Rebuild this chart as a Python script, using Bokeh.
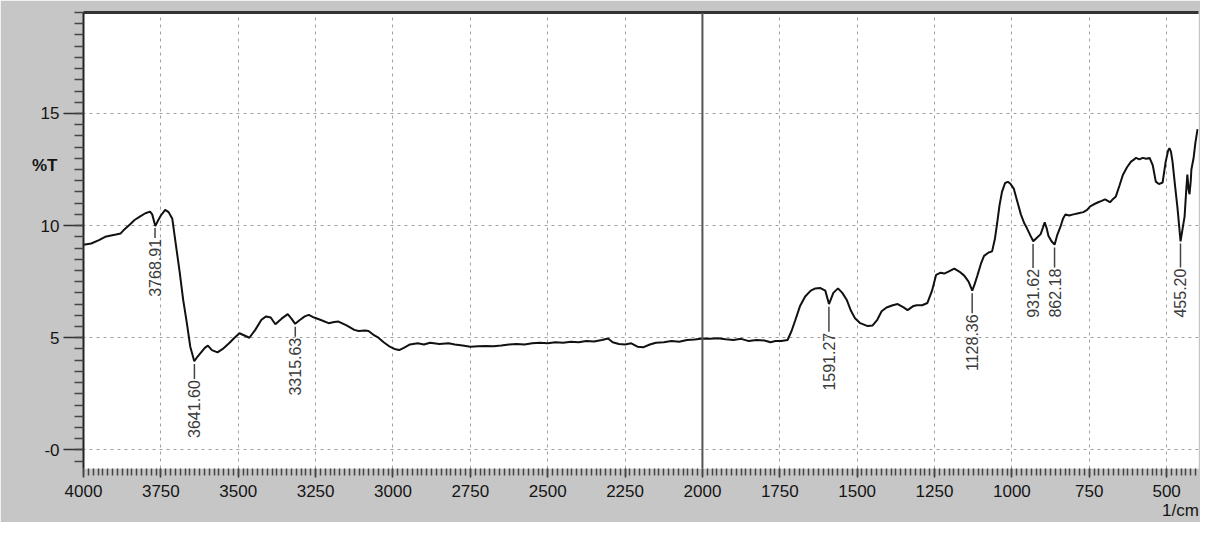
import numpy as np
from bokeh.plotting import figure
from bokeh.models import Range1d, FixedTicker, LinearAxis, Span
from bokeh.embed import file_html
from bokeh.resources import INLINE
from bokeh.core.properties import value

# ---------------- data ----------------
wavenumber = [
    4000, 3975, 3950, 3930, 3915, 3895, 3880, 3870, 3850, 3835, 3818, 3800, 3785, 3778,
    3768, 3760, 3750, 3736, 3725, 3713, 3700, 3689, 3678, 3666, 3655, 3642, 3632, 3620,
    3608, 3598, 3585, 3567, 3550, 3528, 3512, 3496, 3480, 3464, 3445, 3425, 3410, 3395,
    3380, 3360, 3340, 3328, 3316, 3300, 3285, 3272, 3255, 3235, 3208, 3190, 3176, 3150,
    3125, 3111, 3090, 3079, 3060, 3047, 3030, 3010, 2995, 2980, 2965, 2945, 2920, 2900,
    2880, 2850, 2820, 2800, 2775, 2750, 2725, 2700, 2675, 2650, 2625, 2600, 2575, 2550,
    2525, 2500, 2475, 2450, 2425, 2400, 2375, 2350, 2325, 2305, 2290, 2270, 2250, 2230,
    2210, 2190, 2170, 2150, 2125, 2100, 2075, 2050, 2025, 2000, 1975, 1950, 1925, 1900,
    1875, 1850, 1825, 1800, 1780, 1764, 1745, 1725, 1712, 1700, 1685, 1668, 1650, 1635,
    1620, 1603, 1591, 1577, 1562, 1548, 1533, 1520, 1507, 1490, 1466, 1450, 1435, 1421,
    1405, 1385, 1369, 1350, 1337, 1320, 1308, 1290, 1273, 1258, 1245, 1230, 1219, 1205,
    1186, 1170, 1154, 1140, 1128, 1120, 1112, 1100, 1090, 1075, 1064, 1055, 1048, 1040,
    1032, 1022, 1013, 1004, 994, 983, 971, 960, 952, 940, 931, 920, 907, 900, 894, 888,
    882, 872, 862, 853, 843, 835, 827, 815, 801, 785, 769, 757, 747, 735, 721, 710, 699,
    690, 683, 672, 664, 652, 641, 628, 615, 605, 599, 588, 577, 566, 555, 545, 535, 525,
    513, 503, 495, 491, 486, 481, 473, 465, 455, 448, 442, 437, 433, 429, 426, 422, 420,
    413, 407, 400,
]
transmittance = [
    9.15, 9.2, 9.35, 9.5, 9.55, 9.6, 9.65, 9.8, 10.05, 10.25, 10.4, 10.55, 10.62, 10.5,
    9.98, 10.2, 10.45, 10.7, 10.6, 10.3, 9.0, 7.9, 6.7, 5.65, 4.6, 3.95, 4.15, 4.35,
    4.55, 4.65, 4.45, 4.35, 4.5, 4.78, 5.0, 5.2, 5.1, 5.0, 5.35, 5.8, 5.95, 5.9,
    5.6, 5.85, 6.05, 5.85, 5.62, 5.8, 5.95, 6.02, 5.9, 5.8, 5.65, 5.7, 5.72, 5.55,
    5.35, 5.3, 5.32, 5.3, 5.1, 5.0, 4.8, 4.6, 4.5, 4.45, 4.55, 4.7, 4.75, 4.7,
    4.78, 4.72, 4.75, 4.7, 4.65, 4.6, 4.62, 4.63, 4.62, 4.65, 4.7, 4.72, 4.7, 4.75,
    4.78, 4.75, 4.8, 4.78, 4.82, 4.8, 4.85, 4.83, 4.9, 4.97, 4.8, 4.72, 4.7, 4.75,
    4.6, 4.58, 4.7, 4.78, 4.8, 4.85, 4.82, 4.9, 4.92, 4.97, 4.95, 4.98, 4.93, 4.9,
    4.95, 4.85, 4.9, 4.88, 4.8, 4.85, 4.85, 4.9, 5.3, 5.78, 6.4, 6.84, 7.1, 7.2,
    7.22, 7.1, 6.5, 7.0, 7.2, 7.0, 6.67, 6.2, 5.87, 5.65, 5.52, 5.55, 5.8, 6.18,
    6.35, 6.45, 6.5, 6.35, 6.23, 6.4, 6.45, 6.45, 6.55, 7.1, 7.8, 7.9, 7.86, 7.95,
    8.08, 7.95, 7.77, 7.5, 7.1, 7.4, 7.75, 8.3, 8.65, 8.8, 8.85, 9.4, 10.07, 10.9,
    11.5, 11.9, 11.95, 11.85, 11.65, 11.1, 10.5, 10.1, 9.9, 9.55, 9.3, 9.45, 9.62, 9.9, 10.15, 9.9,
    9.55, 9.3, 9.15, 9.6, 9.95, 10.3, 10.5, 10.45, 10.5, 10.55, 10.6, 10.7, 10.86, 10.95, 11.04, 11.1, 11.17,
    11.1, 11.04, 11.2, 11.3, 11.8, 12.27, 12.6, 12.85, 12.95, 13.02, 12.95, 13.02, 12.98, 13.02, 12.7, 11.96, 11.85,
    11.92, 12.85, 13.35, 13.45, 13.3, 12.85, 11.8, 10.8, 9.3, 9.9, 10.4, 11.5, 12.27, 11.6, 11.4, 12.0, 12.5,
    13.0, 13.7, 14.3,
]

x_ticks = [4000, 3750, 3500, 3250, 3000, 2750, 2500, 2250, 2000, 1750, 1500, 1250, 1000, 750, 500]
y_ticks = [0, 5, 10, 15]
y_tick_labels = {0: "-0", 5: "5", 10: "10", 15: "15"}

peak_wavenumbers = [3768.91, 3641.60, 3315.63, 1591.27, 1128.36, 931.62, 862.18, 455.20]
peak_labels = ["3768.91", "3641.60", "3315.63", "1591.27", "1128.36", "931.62", "862.18", "455.20"]

x_unit_label = "1/cm"
y_unit_label = "%T"

# ---------------- figure ----------------
Y0, Y1 = -0.83, 19.5
FRAME_H = 456
PX_PER_T = FRAME_H / (Y1 - Y0)
FONT = "Liberation Sans"
TXT = "#151515"

p = figure(
    frame_width=1115, frame_height=FRAME_H,
    x_range=Range1d(4000, 397), y_range=Range1d(Y0, Y1),
    output_backend="svg", toolbar_location=None,
    min_border_left=83, min_border_right=2, min_border_top=12, min_border_bottom=20,
    background_fill_color="white", border_fill_color="#c6c6c6",
    outline_line_color=None,
)

# x axis
xa = p.xaxis[0]
xa.ticker = FixedTicker(ticks=x_ticks, minor_ticks=list(np.arange(4000, 390, -15.625)))
xa.axis_line_color = None
xa.major_tick_in = 0
xa.minor_tick_in = 0
xa.major_tick_out = 9
xa.minor_tick_out = 7
xa.major_tick_line_color = "#333333"
xa.minor_tick_line_color = "#444444"
xa.major_tick_line_width = 1.5
xa.minor_tick_line_width = 1.5
xa.major_label_standoff = 7
xa.major_label_text_font = FONT
xa.major_label_text_font_size = "17px"
xa.major_label_text_color = TXT

# y axis
ya = p.yaxis[0]
ya.ticker = FixedTicker(ticks=y_ticks, minor_ticks=list(np.arange(-0.5, 19.6, 0.5)))
ya.major_label_overrides = y_tick_labels
ya.axis_line_color = "#222222"
ya.axis_line_width = 2
ya.major_tick_in = 0
ya.minor_tick_in = 0
ya.major_tick_out = 20
ya.minor_tick_out = 9
ya.major_tick_line_color = "#333333"
ya.minor_tick_line_color = "#444444"
ya.major_tick_line_width = 1.5
ya.minor_tick_line_width = 1.5
ya.major_label_standoff = 4
ya.major_label_text_font = FONT
ya.major_label_text_font_size = "17px"
ya.major_label_text_color = TXT

# grid uses only the major positions
p.xgrid[0].ticker = FixedTicker(ticks=x_ticks)
p.ygrid[0].ticker = FixedTicker(ticks=y_ticks)
for g in (p.xgrid[0], p.ygrid[0]):
    g.grid_line_color = "#a0a0a0"
    g.grid_line_dash = "3 4"
    g.grid_line_width = 1

# top border line
top = LinearAxis(ticker=FixedTicker(ticks=[]), major_label_text_font_size="0px",
                 major_tick_out=0, minor_tick_out=0, major_tick_in=0, minor_tick_in=0,
                 major_label_standoff=0, axis_line_color="#333333", axis_line_width=3)
p.add_layout(top, "above")

# unit label "%T" as a tick-less secondary left axis
y_unit_axis = LinearAxis(ticker=FixedTicker(ticks=[12.7]), major_label_overrides={12.7: y_unit_label},
                         axis_line_color=None, major_tick_out=0, minor_tick_out=0,
                         major_tick_in=0, minor_tick_in=0, major_label_standoff=-20,
                         major_label_text_font=FONT,
                         major_label_text_font_size="17px", major_label_text_font_style="bold",
                         major_label_text_color=TXT)
p.add_layout(y_unit_axis, "left")

# unit label "1/cm" as a tick-less secondary bottom axis
x_unit_axis = LinearAxis(ticker=FixedTicker(ticks=[445]), major_label_overrides={445: x_unit_label},
                         axis_line_color=None, major_tick_out=0, minor_tick_out=0,
                         major_tick_in=0, minor_tick_in=0, major_label_standoff=1,
                         major_label_text_font=FONT, major_label_text_font_size="17px",
                         major_label_text_color=TXT)
p.add_layout(x_unit_axis, "below")

# scale-change marker at 2000
p.add_layout(Span(location=2000, dimension="height", line_color="#555555", line_width=2))

# spectrum
p.line(wavenumber, transmittance, line_color="#111111", line_width=2)

# peak annotations
wn_inc = np.array(wavenumber, dtype=float)[::-1]
t_inc = np.array(transmittance, dtype=float)[::-1]
tc = np.interp(peak_wavenumbers, wn_inc, t_inc)
dash_px = np.array([10, 15, 10, 25, 20, 24, 20, 24])
y_start = tc - 3 / PX_PER_T
y_end = y_start - dash_px / PX_PER_T
p.segment(x0=peak_wavenumbers, y0=list(y_start), x1=peak_wavenumbers, y1=list(y_end),
          line_color="#444444", line_width=1.5)
p.text(x=peak_wavenumbers, y=list(y_end - 1 / PX_PER_T), text=peak_labels, angle=np.pi / 2,
       text_align="right", text_baseline="middle", text_font=value(FONT),
       text_font_size="16px", text_color="#3a3a3a")

open("out.html", "w").write(file_html(p, INLINE))
